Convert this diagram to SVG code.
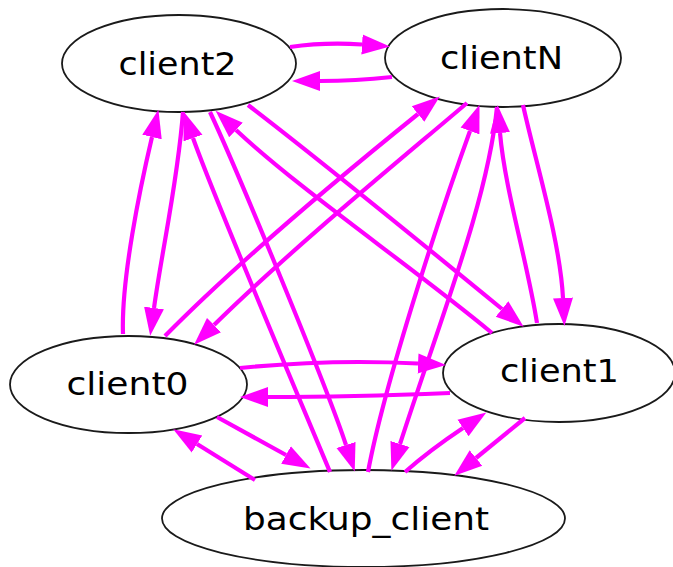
<svg xmlns="http://www.w3.org/2000/svg" width="673" height="567" viewBox="0 0 673 567">
<style>
.node ellipse{fill:#ffffff;stroke:#1a1a1a;stroke-width:1.8}
.node text{font-family:"DejaVu Sans","Liberation Sans",sans-serif;font-size:32px;fill:#000;text-anchor:middle}
.edges path{fill:none;stroke:#ff00ff;stroke-width:4.2;marker-end:url(#ah)}
</style>
<defs>
<marker id="ah" markerUnits="userSpaceOnUse" markerWidth="30" markerHeight="22" viewBox="0 -11 30 22" refX="0" refY="0" orient="auto">
<path d="M0,-10 L28,0 L0,10 Z" fill="#ff00ff" stroke="none"/>
</marker>
</defs>
<rect width="673" height="567" fill="#ffffff"/>
<g id="client2" class="node"><ellipse cx="179" cy="63.5" rx="117" ry="48.5"/><text x="177.5" y="75" textLength="118" lengthAdjust="spacingAndGlyphs">client2</text></g>
<g id="clientN" class="node"><ellipse cx="503" cy="58" rx="118" ry="49"/><text x="501.5" y="69" textLength="123" lengthAdjust="spacingAndGlyphs">clientN</text></g>
<g id="client0" class="node"><ellipse cx="128.5" cy="384.5" rx="118.5" ry="48.5"/><text x="127.5" y="395" textLength="122" lengthAdjust="spacingAndGlyphs">client0</text></g>
<g id="client1" class="node"><ellipse cx="559" cy="373" rx="116" ry="49"/><text x="559.5" y="382" textLength="119" lengthAdjust="spacingAndGlyphs">client1</text></g>
<g id="backup_client" class="node"><ellipse cx="363.5" cy="518.5" rx="201.5" ry="48.5"/><text x="366" y="530" textLength="246" lengthAdjust="spacingAndGlyphs">backup_client</text></g>
<g id="edges" class="edges">
<path d="M290,47 Q325,42 362,44.5"/>
<path d="M392,77 Q355,81 320,81"/>
<path d="M123,334 C121,280 140,188 152,137"/>
<path d="M183,112 C178,180 162,250 154,308"/>
<path d="M330,472 C300,400 215,200 193,138"/>
<path d="M210,112 C238,172 327,387 346,445"/>
<path d="M248,105 C320,160 430,250 502,309"/>
<path d="M492,333 C410,265 300,190 236,130"/>
<path d="M165,336 C230,270 330,185 418,114"/>
<path d="M467,103 C400,160 290,250 214,325"/>
<path d="M523,105 C535,160 560,240 563,298"/>
<path d="M537,323 C527,260 505,190 500,133"/>
<path d="M497,107 C488,200 440,320 400,444"/>
<path d="M368,472 C385,380 445,200 470,131"/>
<path d="M240,368 Q330,359 418,363.5"/>
<path d="M450,393 Q350,397 268,397"/>
<path d="M217,417 L286,455"/>
<path d="M255,480 L197,444"/>
<path d="M405,472 Q430,450 463,428"/>
<path d="M525,418 L476,458"/>
</g>
</svg>
